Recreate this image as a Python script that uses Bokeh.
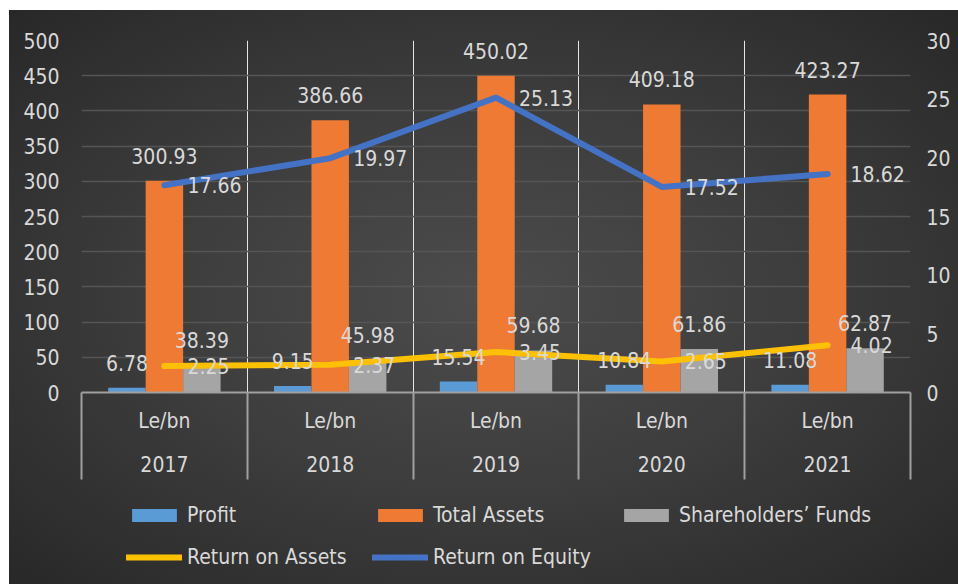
from bokeh.plotting import figure
from bokeh.layouts import column
from bokeh.models import (ColumnDataSource, Range1d, LinearAxis, FixedTicker, Legend, LegendItem)
from bokeh.transform import dodge
from bokeh.core.properties import value
from bokeh.embed import file_html
from bokeh.resources import INLINE

# ---- data ----
years = ["2017", "2018", "2019", "2020", "2021"]
units = ["Le/bn", "Le/bn", "Le/bn", "Le/bn", "Le/bn"]
profit = [6.78, 9.15, 15.54, 10.84, 11.08]
total_assets = [300.93, 386.66, 450.02, 409.18, 423.27]
shareholders_funds = [38.39, 45.98, 59.68, 61.86, 62.87]
return_on_assets = [2.25, 2.37, 3.45, 2.65, 4.02]
return_on_equity = [17.66, 19.97, 25.13, 17.52, 18.62]
left_ticks = [0, 50, 100, 150, 200, 250, 300, 350, 400, 450, 500]
right_ticks = [0, 5, 10, 15, 20, 25, 30]
series_names = ["Profit", "Total Assets", "Shareholders\u2019 Funds", "Return on Assets", "Return on Equity"]

FONT = "DejaVu Sans Condensed"
TXT = "#d9d9d9"
FS = "21px"
C_PROFIT, C_TA, C_SF, C_ROA, C_ROE = "#5b9bd5", "#ee7a33", "#a5a5a5", "#ffc000", "#4472c4"

n = len(years)
centers = [i + 0.5 for i in range(n)]          # category slot centres
bounds = [i for i in range(n + 1)]              # category slot boundaries

src = ColumnDataSource(dict(
    x=centers,
    profit=profit, ta=total_assets, sf=shareholders_funds,
    roa=return_on_assets, roe=return_on_equity,
    profit_l=[f"{v:.2f}" for v in profit],
    ta_l=[f"{v:.2f}" for v in total_assets],
    sf_l=[f"{v:.2f}" for v in shareholders_funds],
    roa_l=[f"{v:.2f}" for v in return_on_assets],
    roe_l=[f"{v:.2f}" for v in return_on_equity],
))

p = figure(width=958, height=500, x_range=Range1d(0, n), y_range=Range1d(0, 500),
           x_axis_location=None, output_backend="svg", toolbar_location=None,
           min_border_left=81, min_border_right=48, min_border_top=40, min_border_bottom=108)
p.extra_y_ranges = {"pct": Range1d(0, 30)}
p.background_fill_alpha = 0
p.border_fill_alpha = 0
p.outline_line_color = None

# grid
p.ygrid.ticker = FixedTicker(ticks=left_ticks)
p.ygrid.grid_line_color = "#555555"
p.ygrid.grid_line_width = 1.3

# left axis
ya = p.yaxis[0]
ya.ticker = FixedTicker(ticks=left_ticks)
ya.axis_line_color = None
ya.major_tick_out = 0
ya.major_tick_in = 0
ya.minor_tick_out = 0
ya.minor_tick_in = 0
ya.major_label_standoff = 22
ya.major_label_text_font = FONT
ya.major_label_text_font_size = FS
ya.major_label_text_color = TXT

# right axis
ra = LinearAxis(y_range_name="pct", ticker=FixedTicker(ticks=right_ticks))
ra.axis_line_color = None
ra.major_tick_out = 0
ra.major_tick_in = 0
ra.minor_tick_out = 0
ra.minor_tick_in = 0
ra.major_label_standoff = 16
ra.major_label_text_font = FONT
ra.major_label_text_font_size = FS
ra.major_label_text_color = TXT
p.add_layout(ra, "right")

# bottom axis 1: unit labels + separators (minor ticks at slot boundaries)
SEP = 87
sep_axis = LinearAxis(ticker=FixedTicker(ticks=centers, minor_ticks=bounds),
                      major_label_overrides={c: u for c, u in zip(centers, units)})
sep_axis.axis_line_color = "#a0a0a0"
sep_axis.axis_line_width = 2
sep_axis.major_tick_out = 0
sep_axis.major_tick_in = 0
sep_axis.minor_tick_in = 0
sep_axis.minor_tick_out = SEP
sep_axis.minor_tick_line_color = "#a0a0a0"
sep_axis.minor_tick_line_width = 2
sep_axis.major_label_standoff = 16 - SEP
sep_axis.major_label_text_font = FONT
sep_axis.major_label_text_font_size = FS
sep_axis.major_label_text_color = TXT
p.add_layout(sep_axis, "below")

# bottom axis 2: years
yr_axis = LinearAxis(ticker=FixedTicker(ticks=centers, minor_ticks=[]),
                     major_label_overrides={c: y for c, y in zip(centers, years)})
yr_axis.axis_line_color = None
yr_axis.major_tick_out = 0
yr_axis.major_tick_in = 0
yr_axis.minor_tick_out = 0
yr_axis.minor_tick_in = 0
yr_axis.major_label_standoff = 20
yr_axis.major_label_text_font = FONT
yr_axis.major_label_text_font_size = FS
yr_axis.major_label_text_color = TXT
p.add_layout(yr_axis, "below")

# bars
bw = 0.226
p.vbar(x=dodge("x", -bw), top="profit", width=bw, source=src, fill_color=C_PROFIT, line_color=None)
p.vbar(x=dodge("x", 0), top="ta", width=bw, source=src, fill_color=C_TA, line_color=None)
p.vbar(x=dodge("x", bw), top="sf", width=bw, source=src, fill_color=C_SF, line_color=None)

# lines
p.line(x="x", y="roa", y_range_name="pct", source=src, line_color=C_ROA,
       line_width=6, line_cap="round", line_join="round")
p.line(x="x", y="roe", y_range_name="pct", source=src, line_color=C_ROE,
       line_width=6, line_cap="round", line_join="round")

# labels
common = dict(source=src, text_font=value(FONT), text_font_size=FS, text_color=TXT)
p.text(x=dodge("x", -bw), y="profit", text="profit_l", text_align="center",
       text_baseline="middle", y_offset=-25, **common)
p.text(x=dodge("x", 0), y="ta", text="ta_l", text_align="center",
       text_baseline="middle", y_offset=-25, **common)
p.text(x=dodge("x", bw), y="sf", text="sf_l", text_align="center",
       text_baseline="middle", y_offset=-25, **common)
p.text(x="x", y="roa", y_range_name="pct", text="roa_l", text_align="left",
       text_baseline="middle", x_offset=23, **common)
p.text(x="x", y="roe", y_range_name="pct", text="roe_l", text_align="left",
       text_baseline="middle", x_offset=23, **common)

# ---- legend strip (separate figure holding only the legend keys) ----
q = figure(width=958, height=84, output_backend="svg", toolbar_location=None,
           x_range=Range1d(1, 2), y_range=Range1d(1, 2),
           x_axis_location=None, y_axis_location=None, min_border=0,
           min_border_left=0, min_border_right=0, min_border_top=0, min_border_bottom=0)
q.background_fill_alpha = 0
q.border_fill_alpha = 0
q.outline_line_color = None
q.grid.visible = False
key_src = ColumnDataSource(dict(x=[0], y=[0]))   # out-of-view key stub, only feeds the legend swatches
k_p = q.vbar(x="x", top="y", width=0, source=key_src, fill_color=C_PROFIT, line_color=None)
k_t = q.vbar(x="x", top="y", width=0, source=key_src, fill_color=C_TA, line_color=None)
k_s = q.vbar(x="x", top="y", width=0, source=key_src, fill_color=C_SF, line_color=None)
k_a = q.line(x="x", y="y", source=key_src, line_color=C_ROA, line_width=6, line_cap="round")
k_e = q.line(x="x", y="y", source=key_src, line_color=C_ROE, line_width=6, line_cap="round")

legend = Legend(items=[LegendItem(label=nm, renderers=[r]) for nm, r in
                       zip(series_names, [k_p, k_t, k_s, k_a, k_e])],
                location="top_left", orientation="horizontal", ncols=3)
legend.title = " "
legend.title_location = "left"
legend.title_standoff = 44
legend.title_text_font_size = "1px"
legend.background_fill_alpha = 0
legend.border_line_color = None
legend.padding = 0
legend.margin = 0
legend.spacing = 12
legend.glyph_width = 56
legend.glyph_height = 16
legend.label_standoff = 5
legend.label_width = 173
legend.label_height = 30
legend.label_text_font = FONT
legend.label_text_font_size = FS
legend.label_text_color = TXT
q.add_layout(legend, "center")

layout = column(p, q, spacing=0, styles={
    "background": "radial-gradient(ellipse at 50% 50%, #4c4c4c 0%, #3e3e3e 45%, #282828 100%) "
                  "9px 10px / 949px 574px no-repeat #ffffff"})

open("out.html", "w").write(file_html(layout, INLINE))
